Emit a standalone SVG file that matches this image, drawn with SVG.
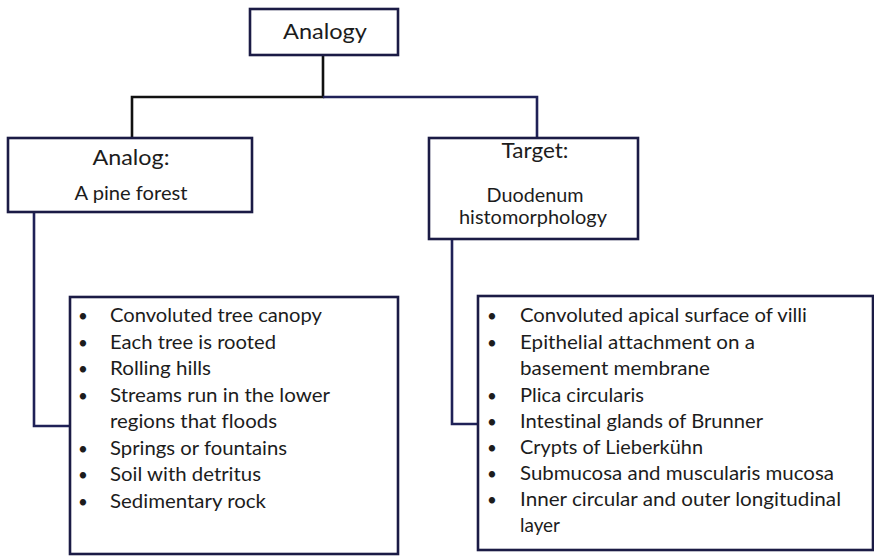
<svg xmlns="http://www.w3.org/2000/svg" width="874" height="556" viewBox="0 0 874 556">
  <style>
    .box { fill: #ffffff; stroke: #1b1b45; stroke-width: 2.6; }
    .wire { fill: none; stroke-width: 2.6; stroke-linejoin: miter; }
    .blk { stroke: #111111; }
    .nav { stroke: #1f2157; }
    text { font-family: Lato, "Open Sans", "Liberation Sans", sans-serif; fill: #1c1c1c; font-variant-ligatures: none; }
    .title { font-size: 22px; text-anchor: middle; }
    .sub { font-size: 19px; text-anchor: middle; }
    .item { font-size: 19px; }
    .dot { font-size: 17px; text-anchor: middle; }
  </style>

  <!-- connectors -->
  <g id="connectors">
    <path class="wire blk" d="M323 55 V97 H132 V138"/>
    <path class="wire nav" d="M323 97 H537 V138"/>
    <path class="wire nav" d="M34 212 V426 H70"/>
    <path class="wire nav" d="M452 239 V424 H478"/>
  </g>

  <!-- root -->
  <g id="analogy">
    <rect class="box" x="250" y="9" width="148" height="46"/>
    <text class="title" x="325" y="39" textLength="84" lengthAdjust="spacingAndGlyphs">Analogy</text>
  </g>

  <!-- analog branch -->
  <g id="analog">
    <rect class="box" x="8" y="138" width="244" height="74"/>
    <text class="title" x="131" y="165" font-size="21" textLength="77" lengthAdjust="spacingAndGlyphs">Analog:</text>
    <text class="sub" x="131" y="200" textLength="113" lengthAdjust="spacingAndGlyphs">A pine forest</text>
  </g>

  <!-- target branch -->
  <g id="target">
    <rect class="box" x="429" y="138" width="209" height="101"/>
    <text class="title" x="535" y="158" font-size="21" textLength="67" lengthAdjust="spacingAndGlyphs">Target:</text>
    <text class="sub" x="535" y="202" textLength="97" lengthAdjust="spacingAndGlyphs">Duodenum</text>
    <text class="sub" x="533" y="224" textLength="148" lengthAdjust="spacingAndGlyphs">histomorphology</text>
  </g>

  <!-- analog features -->
  <g id="analog-list">
    <rect class="box" x="70" y="297" width="328" height="257"/>
    <g class="dot">
      <text x="83" y="322">•</text>
      <text x="83" y="348.5">•</text>
      <text x="83" y="375">•</text>
      <text x="83" y="401.5">•</text>
      <text x="83" y="454.5">•</text>
      <text x="83" y="481">•</text>
      <text x="83" y="507.5">•</text>
    </g>
    <g class="item">
      <text x="110" y="322" textLength="212" lengthAdjust="spacingAndGlyphs">Convoluted tree canopy</text>
      <text x="110" y="348.5" textLength="166" lengthAdjust="spacingAndGlyphs">Each tree is rooted</text>
      <text x="110" y="375" textLength="101" lengthAdjust="spacingAndGlyphs">Rolling hills</text>
      <text x="110" y="401.5" textLength="220" lengthAdjust="spacingAndGlyphs">Streams run in the lower</text>
      <text x="110" y="428" textLength="167" lengthAdjust="spacingAndGlyphs">regions that floods</text>
      <text x="110" y="454.5" textLength="177" lengthAdjust="spacingAndGlyphs">Springs or fountains</text>
      <text x="110" y="481" textLength="151" lengthAdjust="spacingAndGlyphs">Soil with detritus</text>
      <text x="110" y="507.5" textLength="156" lengthAdjust="spacingAndGlyphs">Sedimentary rock</text>
    </g>
  </g>

  <!-- target features -->
  <g id="target-list">
    <rect class="box" x="478" y="296" width="395" height="254"/>
    <g class="dot">
      <text x="492" y="322">•</text>
      <text x="492" y="348.5">•</text>
      <text x="492" y="401.5">•</text>
      <text x="492" y="428">•</text>
      <text x="492" y="454">•</text>
      <text x="492" y="480">•</text>
      <text x="492" y="506">•</text>
    </g>
    <g class="item">
      <text x="520" y="322" textLength="287" lengthAdjust="spacingAndGlyphs">Convoluted apical surface of villi</text>
      <text x="520" y="348.5" textLength="235" lengthAdjust="spacingAndGlyphs">Epithelial attachment on a</text>
      <text x="520" y="375" textLength="190" lengthAdjust="spacingAndGlyphs">basement membrane</text>
      <text x="520" y="401.5" textLength="124" lengthAdjust="spacingAndGlyphs">Plica circularis</text>
      <text x="520" y="428" textLength="243" lengthAdjust="spacingAndGlyphs">Intestinal glands of Brunner</text>
      <text x="520" y="454" textLength="183" lengthAdjust="spacingAndGlyphs">Crypts of Lieberkühn</text>
      <text x="520" y="480" textLength="314" lengthAdjust="spacingAndGlyphs">Submucosa and muscularis mucosa</text>
      <text x="520" y="506" textLength="321" lengthAdjust="spacingAndGlyphs">Inner circular and outer longitudinal</text>
      <text x="520" y="532" textLength="40" lengthAdjust="spacingAndGlyphs">layer</text>
    </g>
  </g>
</svg>
